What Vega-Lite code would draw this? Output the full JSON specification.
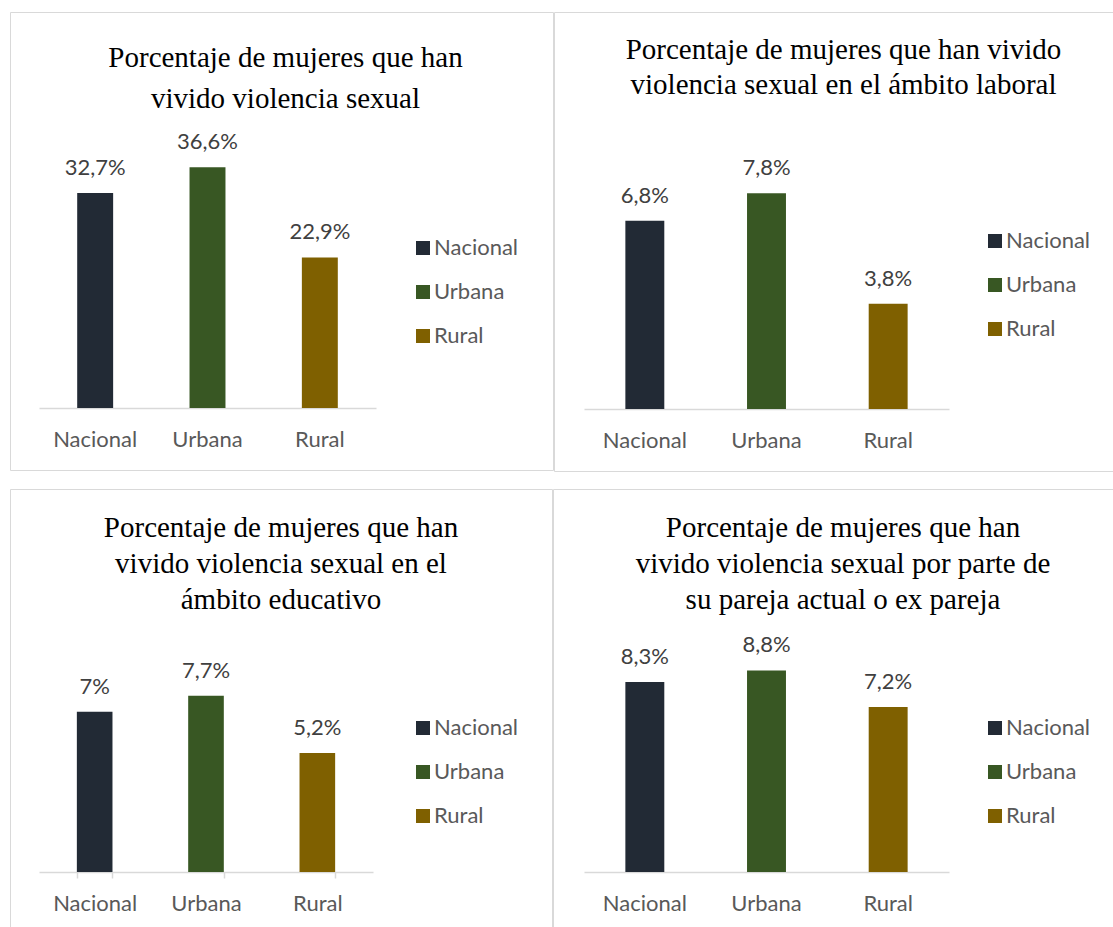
{
  "$schema": "https://vega.github.io/schema/vega-lite/v6.json",
  "padding": {"left": 9, "top": 11, "right": 0, "bottom": 0},
  "background": "white",
  "spacing": 16,
  "config": {
    "view": {"stroke": "#D9D9D9", "strokeWidth": 1},
    "title": {"font": "Liberation Serif", "fontSize": 29, "fontWeight": "normal", "color": "#000000", "anchor": "middle", "baseline": "alphabetic", "frame": "group"},
    "axis": {"domainColor": "#D9D9D9", "domainWidth": 1.5, "labelFont": "Lato", "labelFontSize": 22, "labelColor": "#595959", "labelAngle": 0, "grid": false},
    "legend": {"orient": "none", "direction": "vertical", "padding": 0, "labelFont": "Lato", "labelFontSize": 22, "labelColor": "#595959", "symbolType": "square", "symbolSize": 196, "symbolStrokeWidth": 0, "rowPadding": 22, "labelOffset": 0},
    "text": {"font": "Lato", "fontSize": 22, "color": "#404040"}
  },
  "resolve": {"scale": {"x": "independent", "y": "independent", "color": "independent"}, "legend": {"color": "independent"}},
  "vconcat": [
    {
      "spacing": -5,
      "resolve": {"scale": {"x": "independent", "y": "independent", "color": "independent"}, "legend": {"color": "independent"}},
      "hconcat": [
        {
          "width": 543, "height": 458,
          "title": {"text": ["Porcentaje de mujeres que han", "vivido violencia sexual"], "offset": -102, "dx": 4, "lineHeight": 41},
          "data": {"values": [
            {"area": "Nacional", "pct": 32.7, "label": "32,7%"},
            {"area": "Urbana", "pct": 36.6, "label": "36,6%"},
            {"area": "Rural", "pct": 22.9, "label": "22,9%"}
          ]},
          "encoding": {
            "x": {"field": "area", "type": "nominal", "sort": ["Nacional", "Urbana", "Rural"], "title": null,
                  "scale": {"range": [29, 366], "paddingInner": 0.68, "paddingOuter": 0.34},
                  "axis": {"offset": -62, "ticks": false, "tickSize": 0, "labelPadding": 21}},
            "y": {"field": "pct", "type": "quantitative", "axis": null, "scale": {"domain": [0, 40], "range": [396, 133], "nice": false}}
          },
          "layer": [
            {"mark": {"type": "bar"},
             "encoding": {"color": {"field": "area", "type": "nominal", "title": null,
               "scale": {"domain": ["Nacional", "Urbana", "Rural"], "range": ["#222A35", "#385723", "#7F6000"]},
               "legend": {"legendX": 402, "legendY": 225}}}},
            {"mark": {"type": "text", "dy": -18, "baseline": "alphabetic"},
             "encoding": {"text": {"field": "label"}}}
          ]
        },
        {
          "width": 565, "height": 459,
          "title": {"text": ["Porcentaje de mujeres que han vivido", "violencia sexual  en el ámbito laboral"], "offset": -88, "dx": 7, "lineHeight": 35},
          "data": {"values": [
            {"area": "Nacional", "pct": 6.8, "label": "6,8%"},
            {"area": "Urbana", "pct": 7.8, "label": "7,8%"},
            {"area": "Rural", "pct": 3.8, "label": "3,8%"}
          ]},
          "encoding": {
            "x": {"field": "area", "type": "nominal", "sort": ["Nacional", "Urbana", "Rural"], "title": null,
                  "scale": {"range": [30, 395], "paddingInner": 0.68, "paddingOuter": 0.34},
                  "axis": {"offset": -62, "ticks": false, "tickSize": 0, "labelPadding": 21}},
            "y": {"field": "pct", "type": "quantitative", "axis": null, "scale": {"domain": [0, 9], "range": [397, 148], "nice": false}}
          },
          "layer": [
            {"mark": {"type": "bar"},
             "encoding": {"color": {"field": "area", "type": "nominal", "title": null,
               "scale": {"domain": ["Nacional", "Urbana", "Rural"], "range": ["#222A35", "#385723", "#7F6000"]},
               "legend": {"legendX": 430, "legendY": 218}}}},
            {"mark": {"type": "text", "dy": -18, "baseline": "alphabetic"},
             "encoding": {"text": {"field": "label"}}}
          ]
        }
      ]
    },
    {
      "spacing": -5,
      "resolve": {"scale": {"x": "independent", "y": "independent", "color": "independent"}, "legend": {"color": "independent"}},
      "hconcat": [
        {
          "width": 542, "height": 438,
          "title": {"text": ["Porcentaje de mujeres que han", "vivido violencia sexual  en el", "ámbito educativo"], "offset": -126, "dx": 0, "lineHeight": 36},
          "data": {"values": [
            {"area": "Nacional", "pct": 7.0, "label": "7%"},
            {"area": "Urbana", "pct": 7.7, "label": "7,7%"},
            {"area": "Rural", "pct": 5.2, "label": "5,2%"}
          ]},
          "encoding": {
            "x": {"field": "area", "type": "nominal", "sort": ["Nacional", "Urbana", "Rural"], "title": null,
                  "scale": {"range": [29, 363], "paddingInner": 0.68, "paddingOuter": 0.34},
                  "axis": {"offset": -55, "ticks": true, "tickBand": "extent", "tickSize": 6, "tickColor": "#D9D9D9", "tickWidth": 1.5, "labelPadding": 15}},
            "y": {"field": "pct", "type": "quantitative", "axis": null, "scale": {"domain": [0, 10], "range": [383, 154], "nice": false}}
          },
          "layer": [
            {"mark": {"type": "bar"},
             "encoding": {"color": {"field": "area", "type": "nominal", "title": null,
               "scale": {"domain": ["Nacional", "Urbana", "Rural"], "range": ["#222A35", "#385723", "#7F6000"]},
               "legend": {"legendX": 402, "legendY": 228}}}},
            {"mark": {"type": "text", "dy": -18, "baseline": "alphabetic"},
             "encoding": {"text": {"field": "label"}}}
          ]
        },
        {
          "width": 566, "height": 438,
          "title": {"text": ["Porcentaje de mujeres  que han", "vivido  violencia sexual  por parte de", "su pareja actual o ex pareja"], "offset": -126, "dx": 7, "lineHeight": 36},
          "data": {"values": [
            {"area": "Nacional", "pct": 8.3, "label": "8,3%"},
            {"area": "Urbana", "pct": 8.8, "label": "8,8%"},
            {"area": "Rural", "pct": 7.2, "label": "7,2%"}
          ]},
          "encoding": {
            "x": {"field": "area", "type": "nominal", "sort": ["Nacional", "Urbana", "Rural"], "title": null,
                  "scale": {"range": [31, 396], "paddingInner": 0.68, "paddingOuter": 0.34},
                  "axis": {"offset": -55, "ticks": false, "tickSize": 0, "labelPadding": 21}},
            "y": {"field": "pct", "type": "quantitative", "axis": null, "scale": {"domain": [0, 10], "range": [383, 154], "nice": false}}
          },
          "layer": [
            {"mark": {"type": "bar"},
             "encoding": {"color": {"field": "area", "type": "nominal", "title": null,
               "scale": {"domain": ["Nacional", "Urbana", "Rural"], "range": ["#222A35", "#385723", "#7F6000"]},
               "legend": {"legendX": 431, "legendY": 228}}}},
            {"mark": {"type": "text", "dy": -18, "baseline": "alphabetic"},
             "encoding": {"text": {"field": "label"}}}
          ]
        }
      ]
    }
  ]
}
